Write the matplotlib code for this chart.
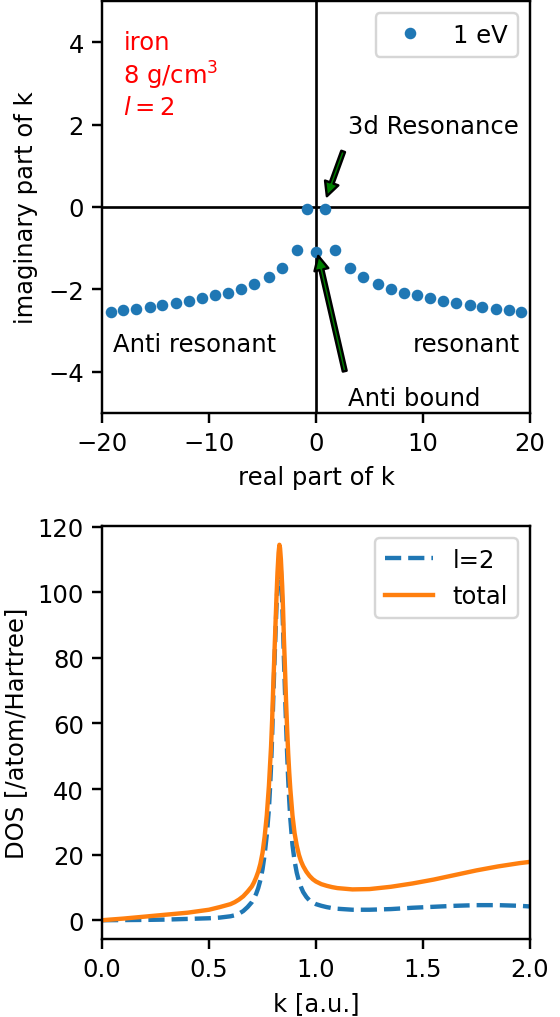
import matplotlib
matplotlib.use("Agg")
import matplotlib.pyplot as plt

# ---- top panel data: complex k poles (1 eV) ----
re_k = [-19.2, -18.0, -16.8, -15.55, -14.35, -13.1, -11.85, -10.7, -9.44, -8.2,
        -7.0, -5.75, -4.39, -3.15, -1.78, -0.84, 0.0, 0.84, 1.78, 3.15,
        4.39, 5.75, 7.0, 8.2, 9.44, 10.7, 11.85, 13.1, 14.35, 15.55,
        16.8, 18.0, 19.2]
im_k = [-2.55, -2.51, -2.48, -2.43, -2.39, -2.34, -2.29, -2.22, -2.14, -2.08,
        -1.98, -1.87, -1.71, -1.48, -1.04, -0.04, -1.09, -0.04, -1.04, -1.48,
        -1.71, -1.87, -1.98, -2.08, -2.14, -2.22, -2.29, -2.34, -2.39, -2.43,
        -2.48, -2.51, -2.55]

# ---- bottom panel data: DOS ----
k_au = [0.00, 0.10, 0.20, 0.30, 0.40, 0.50, 0.55, 0.60, 0.62, 0.64,
        0.66, 0.68, 0.70, 0.71, 0.72, 0.73, 0.74, 0.75, 0.76, 0.77,
        0.78, 0.785, 0.79, 0.795, 0.80, 0.805, 0.81, 0.815, 0.82, 0.825,
        0.829, 0.832, 0.836, 0.842, 0.846, 0.85, 0.855, 0.86, 0.865, 0.87,
        0.875, 0.88, 0.89, 0.90, 0.91, 0.92, 0.93, 0.94, 0.955, 0.97,
        0.985, 1.00, 1.025, 1.05, 1.075, 1.10, 1.17, 1.25, 1.35, 1.45,
        1.55, 1.65, 1.75, 1.85, 1.95, 2.00]
dos_l2 = [0.0, 0.05, 0.1, 0.2, 0.4, 0.6, 0.8, 1.2, 1.5, 2.0,
          2.8, 4.0, 5.5, 6.6, 8.0, 9.8, 12.2, 15.5, 20.0, 26.0,
          34.0, 40.0, 47.0, 56.0, 67.0, 77.0, 86.0, 95.0, 102.0, 108.0,
          111.0, 110.0, 106.5, 97.0, 89.0, 80.0, 70.0, 60.0, 51.0, 43.0,
          36.5, 31.0, 23.0, 18.0, 14.5, 12.0, 10.1, 8.6, 7.1, 6.0,
          5.4, 4.9, 4.4, 4.0, 3.7, 3.5, 3.2, 3.2, 3.4, 3.8,
          4.1, 4.4, 4.6, 4.6, 4.4, 4.2]
dos_total = [0.0, 0.5, 1.1, 1.7, 2.3, 3.2, 4.0, 4.9, 5.5, 6.3,
             7.3, 8.7, 10.3, 11.5, 13.0, 14.8, 17.2, 20.5, 25.5, 32.0,
             41.0, 47.0, 53.0, 61.0, 71.0, 80.0, 89.0, 98.0, 106.0, 112.0,
             114.5, 113.5, 110.0, 102.0, 95.0, 86.0, 77.0, 67.0, 58.5, 51.0,
             45.0, 40.0, 32.0, 26.5, 22.8, 20.0, 18.0, 16.5, 14.8, 13.5,
             12.5, 11.8, 11.0, 10.5, 10.1, 9.8, 9.4, 9.5, 10.2, 11.2,
             12.4, 13.8, 15.2, 16.4, 17.4, 17.8]

plt.rcParams['font.family'] = ['DejaVu Sans']
plt.rcParams['font.size'] = 10
plt.rcParams['axes.linewidth'] = 1.0
plt.rcParams['xtick.major.width'] = 1.0
plt.rcParams['ytick.major.width'] = 1.0
plt.rcParams['xtick.major.size'] = 4.0
plt.rcParams['ytick.major.size'] = 4.0

fig = plt.figure(figsize=(3.2, 1018 / 175), dpi=175)
ax1 = fig.add_axes([102 / 560, 1 - 414 / 1018, 428 / 560, 412 / 1018])
ax2 = fig.add_axes([102 / 560, 1 - 940 / 1018, 428 / 560, 413 / 1018])

# top panel
ax1.axhline(0, color='k', lw=1.1)
ax1.axvline(0, color='k', lw=1.1)
ax1.plot(re_k, im_k, '.', color='C0', markersize=7.5, label='1 eV')
ax1.set_xlim(-20, 20)
ax1.set_ylim(-5, 5)
ax1.set_xticks([-20, -10, 0, 10, 20])
ax1.set_yticks([-4, -2, 0, 2, 4])
ax1.set_xlabel('real part of k')
ax1.set_ylabel('imaginary part of k')
ax1.legend(loc='upper right', numpoints=1)
ax1.text(-18, 2.25, 'iron\n8 g/cm$^3$\n$l=2$', color='red')
ax1.text(-19, -3.5, 'Anti resonant')
ax1.text(9, -3.5, 'resonant')
ax1.annotate('3d Resonance', xy=(0.72, 0.05), xytext=(3, 1.8),
             arrowprops=dict(facecolor='green', width=1.6, headwidth=5.8,
                             headlength=5.8, shrink=0.13))
ax1.annotate('Anti bound', xy=(0.0, -0.95), xytext=(3, -4.8),
             arrowprops=dict(facecolor='green', width=1.6, headwidth=5.8,
                             headlength=5.8, shrink=0.07))

# bottom panel
ax2.plot(k_au, dos_l2, '--', color='C0', lw=1.8, label='l=2')
ax2.plot(k_au, dos_total, '-', color='C1', lw=1.8, label='total')
ax2.set_xlim(0, 2)
ax2.set_xticks([0.0, 0.5, 1.0, 1.5, 2.0])
ax2.set_yticks([0, 20, 40, 60, 80, 100, 120])
ax2.set_xlabel('k [a.u.]')
ax2.set_ylabel('DOS [/atom/Hartree]')
ax2.legend(loc='upper right')

fig.savefig('out.png', dpi=175)
